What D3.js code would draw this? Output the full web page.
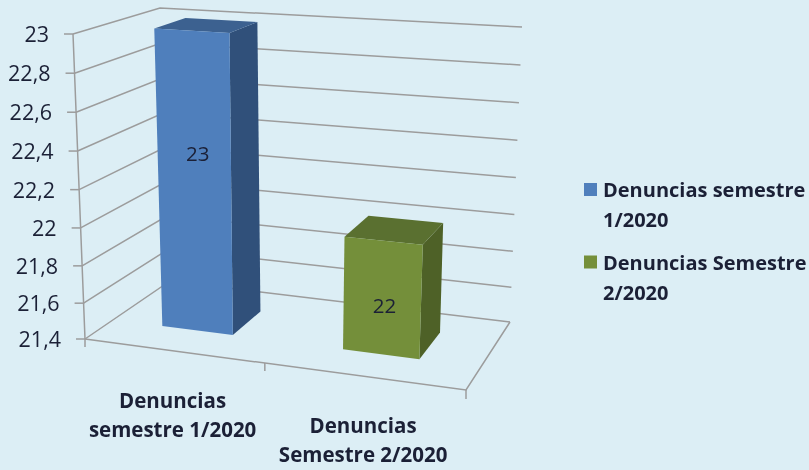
<!DOCTYPE html>
<html>
<head>
<meta charset="utf-8">
<script src="https://cdn.jsdelivr.net/npm/d3@7"></script>
<style>
  html, body { margin: 0; padding: 0; background: #dceef5; }
  svg { display: block; filter: blur(0.5px); }
  text { font-family: "Open Sans", Lato, sans-serif; fill: #1b2036; }
</style>
</head>
<body>
<div id="chart"></div>
<script>
const categories = [
  ["Denuncias", "semestre 1/2020"],
  ["Denuncias", "Semestre 2/2020"],
];
const legend_labels = [
  ["Denuncias semestre", "1/2020"],
  ["Denuncias Semestre", "2/2020"],
];
const values = [23, 22];
const value_ticks = [21.4, 21.6, 21.8, 22, 22.2, 22.4, 22.6, 22.8, 23];

const front_colors = ["#4f7fbc", "#748f3a"];
const top_colors = ["#3c6190", "#5a7030"];
const side_colors = ["#30507a", "#4e6127"];
const grid_color = "#9c9c9c";

const width = 809;
const height = 470;

// corners of the 3d box as they land on screen
const floor = { fl: [85, 339], fr: [466, 390], bl: [170, 281], br: [510, 322] };
const roof = { fl: [73, 34], fr: [480, 60], bl: [160, 8], br: [522, 27] };

// where each bar stands on the floor, 0-1 across and 0-1 into the depth
const bar_spots = [
  { u0: 0.133, u1: 0.325, v0: 0.335, v1: 0.72 },
  { u0: 0.625, u1: 0.833, v0: 0.335, v1: 0.74 },
];
const cat_spots = [0.23, 0.73];
// the data labels don't sit dead centre on the bars
const label_nudge = [[3, -23], [2, 14]];

const yScale = d3.scaleLinear().domain([21.4, 23]).range([0, 1]);

function plane_point(p, u, v) {
  const front = d3.interpolate(p.fl, p.fr)(u);
  const back = d3.interpolate(p.bl, p.br)(u);
  return d3.interpolate(front, back)(v);
}

function project(u, v, val) {
  //tiny power because the upper steps come out a bit taller
  const t = Math.pow(yScale(val), 1.03);
  return d3.interpolate(plane_point(floor, u, v), plane_point(roof, u, v))(t);
}

const svg = d3
  .select("#chart")
  .append("svg")
  .attr("width", width)
  .attr("height", height)
  .attr("viewBox", [0, 0, width, height]);

const line = d3.line();

// back walls
svg
  .append("g")
  .selectAll("path")
  .data(value_ticks)
  .join("path")
  .attr("d", (d) => line([project(0, 0, d), project(0, 1, d), project(1, 1, d)]))
  .attr("fill", "none")
  .attr("stroke", grid_color)
  .attr("stroke-width", 1.5);

// floor edges and the axis lines
const floor_edges = [
  [project(0, 0, 21.4), project(1, 0, 21.4), project(1, 1, 21.4)],
  [project(0, 0, 23), project(0, 0, 21.4), [project(0, 0, 21.4)[0], project(0, 0, 21.4)[1] + 8]],
  [project(1, 0, 21.4), [project(1, 0, 21.4)[0], project(1, 0, 21.4)[1] + 9]],
  [project(0.472, 0, 21.4), [project(0.472, 0, 21.4)[0], project(0.472, 0, 21.4)[1] + 8]],
];
svg
  .append("g")
  .selectAll("path")
  .data(floor_edges)
  .join("path")
  .attr("d", (d) => line(d))
  .attr("fill", "none")
  .attr("stroke", grid_color)
  .attr("stroke-width", 1.5);

// y ticks
const y_ticks = svg.append("g").selectAll("g").data(value_ticks).join("g");
y_ticks
  .append("line")
  .attr("x1", (d) => project(0, 0, d)[0] - 9)
  .attr("x2", (d) => project(0, 0, d)[0])
  .attr("y1", (d) => project(0, 0, d)[1])
  .attr("y2", (d) => project(0, 0, d)[1])
  .attr("stroke", grid_color)
  .attr("stroke-width", 1.5);
y_ticks
  .append("text")
  .attr("x", (d) => project(0, 0, d)[0] - 24)
  .attr("y", (d) => project(0, 0, d)[1] + 8)
  .attr("text-anchor", "end")
  .attr("font-size", 21.5)
  .text((d) => String(d).replace(".", ","));

// bars
const bars = svg.append("g").selectAll("g").data(values).join("g");

function face(i, val, pick) {
  const s = bar_spots[i];
  return line(pick(s, val)) + "Z";
}

bars
  .append("path")
  .attr("fill", (d, i) => side_colors[i])
  .attr("d", (d, i) =>
    face(i, d, (s, val) => [
      project(s.u1, s.v0, 21.4),
      project(s.u1, s.v1, 21.4),
      project(s.u1, s.v1, val),
      project(s.u1, s.v0, val),
    ])
  );
bars
  .append("path")
  .attr("fill", (d, i) => top_colors[i])
  .attr("d", (d, i) =>
    face(i, d, (s, val) => [
      project(s.u0, s.v0, val),
      project(s.u1, s.v0, val),
      project(s.u1, s.v1, val),
      project(s.u0, s.v1, val),
    ])
  );
bars
  .append("path")
  .attr("fill", (d, i) => front_colors[i])
  .attr("d", (d, i) =>
    face(i, d, (s, val) => [
      project(s.u0, s.v0, 21.4),
      project(s.u1, s.v0, 21.4),
      project(s.u1, s.v0, val),
      project(s.u0, s.v0, val),
    ])
  );
bars
  .append("text")
  .attr("x", (d, i) => project((bar_spots[i].u0 + bar_spots[i].u1) / 2, bar_spots[i].v0, (21.4 + d) / 2)[0] + label_nudge[i][0])
  .attr("y", (d, i) => project((bar_spots[i].u0 + bar_spots[i].u1) / 2, bar_spots[i].v0, (21.4 + d) / 2)[1] + label_nudge[i][1])
  .attr("text-anchor", "middle")
  .attr("font-size", 20.5)
  .text((d) => d);

// category labels
svg
  .append("g")
  .selectAll("text")
  .data(categories)
  .join("text")
  .attr("text-anchor", "middle")
  .attr("font-size", 20.5)
  .attr("font-weight", 700)
  .each(function (d, i) {
    const p = project(cat_spots[i], 0, 21.4);
    d3.select(this)
      .selectAll("tspan")
      .data(d)
      .join("tspan")
      .attr("x", p[0])
      .attr("y", (t, j) => p[1] + 57 + j * 29)
      .text((t) => t);
  });

// legend
const legend = svg.append("g").selectAll("g").data(legend_labels).join("g");
legend
  .append("rect")
  .attr("x", 584)
  .attr("y", (d, i) => 183 + i * 72.5)
  .attr("width", 13)
  .attr("height", 13)
  .attr("fill", (d, i) => front_colors[i]);
legend
  .append("text")
  .attr("font-size", 20)
  .attr("font-weight", 700)
  .selectAll("tspan")
  .data((d, i) => d.map((t, j) => ({ t, i, j })))
  .join("tspan")
  .attr("x", 603)
  .attr("y", (d) => 197 + d.i * 72.5 + d.j * 30)
  .text((d) => d.t);
</script>
</body>
</html>
